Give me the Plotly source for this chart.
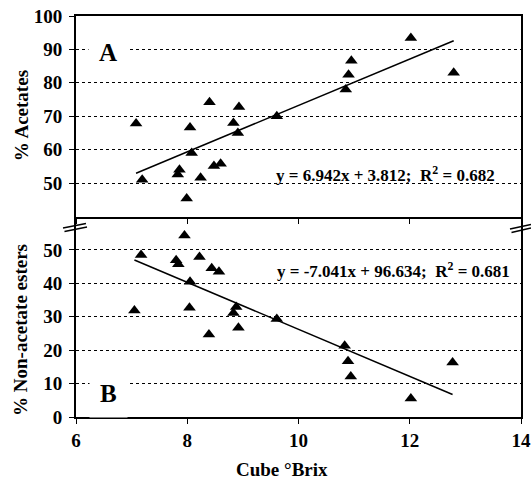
import plotly.graph_objects as go
from plotly.subplots import make_subplots

# Data
brix_a = [7.08, 7.19, 7.86, 7.83, 7.99, 8.05, 8.08, 8.24, 8.40, 8.48,
          8.60, 8.83, 8.91, 8.93, 9.61, 10.85, 10.90, 10.95, 12.02, 12.79]
acetates = [67.8, 51.0, 54.0, 52.6, 45.4, 66.6, 59.0, 51.6, 74.2, 55.1,
            55.8, 68.0, 65.0, 72.8, 70.0, 78.0, 82.4, 86.6, 93.4, 83.0]

brix_b = [7.95, 7.17, 7.80, 7.84, 8.22, 8.44, 8.57, 8.05, 7.05, 8.04,
          8.83, 8.88, 8.92, 8.39, 9.61, 10.83, 10.89, 10.94, 12.02, 12.77]
non_acetates = [54.3, 48.5, 46.9, 45.7, 47.9, 44.5, 43.5, 40.5, 31.9, 32.7,
                31.1, 32.9, 26.7, 24.7, 29.3, 21.3, 16.7, 12.1, 5.5, 16.3]

fit_a = (6.942, 3.812)
fit_b = (-7.041, 96.634)
eq_a = "<b>y = 6.942x + 3.812;&nbsp; R<sup>2</sup> = 0.682</b>"
eq_b = "<b>y = -7.041x + 96.634;&nbsp; R<sup>2</sup> = 0.681</b>"

x_ticks = [6, 8, 10, 12, 14]
ya_ticks = [50, 60, 70, 80, 90, 100]
yb_ticks = [0, 10, 20, 30, 40, 50]

FONT = "Liberation Serif, Times New Roman, serif"

fig = make_subplots(rows=2, cols=1, shared_xaxes=False, vertical_spacing=0)

mk = dict(symbol="triangle-up", size=11, color="black")
fig.add_trace(go.Scatter(x=brix_a, y=acetates, mode="markers", marker=mk,
                         showlegend=False), row=1, col=1)
fig.add_trace(go.Scatter(x=brix_b, y=non_acetates, mode="markers", marker=mk,
                         showlegend=False), row=2, col=1)

xa0, xa1 = min(brix_a), max(brix_a)
fig.add_trace(go.Scatter(x=[xa0, xa1], y=[fit_a[0] * xa0 + fit_a[1], fit_a[0] * xa1 + fit_a[1]],
                         mode="lines", line=dict(color="black", width=1.5),
                         showlegend=False), row=1, col=1)
xb0, xb1 = min(brix_b), max(brix_b)
fig.add_trace(go.Scatter(x=[xb0, xb1], y=[fit_b[0] * xb0 + fit_b[1], fit_b[0] * xb1 + fit_b[1]],
                         mode="lines", line=dict(color="black", width=1.5),
                         showlegend=False), row=2, col=1)

def bold(vals):
    return ["<b>%d</b>" % v for v in vals]

tickfont = dict(family=FONT, size=19, color="black")
axis_common = dict(showline=True, linecolor="black", linewidth=2, automargin=False,
                   ticks="outside", ticklen=5, tickcolor="black", tickwidth=1,
                   zeroline=False, tickfont=tickfont)

fig.update_xaxes(range=[6, 14], tickvals=x_ticks, ticktext=bold(x_ticks),
                 showgrid=False, **axis_common)
fig.update_xaxes(showticklabels=False, mirror=True, row=1, col=1)
fig.update_xaxes(mirror=False, ticklabelstandoff=0, row=2, col=1)

fig.update_yaxes(showgrid=True, gridcolor="black", gridwidth=1, griddash="dot",
                 mirror=True, ticklabelstandoff=3, **axis_common)
fig.update_yaxes(range=[40, 100], tickvals=ya_ticks, ticktext=bold(ya_ticks), row=1, col=1)
fig.update_yaxes(range=[0, 60], tickvals=yb_ticks, ticktext=bold(yb_ticks), row=2, col=1)

W, H, L, T = 445, 401, 76, 16
FIG_W, FIG_H = 531, 479
B = FIG_H - T - H

titlefont = dict(family=FONT, size=19, color="black")
annotations = [
    dict(text="<b>% Acetates</b>", xref="paper", yref="paper", x=0, y=0.75,
         xanchor="center", yanchor="middle",
         xshift=21 - L, textangle=-90, showarrow=False, font=titlefont),
    dict(text="<b>% Non-acetate esters</b>", xref="paper", yref="paper", x=0, y=0.217,
         xanchor="center", yanchor="middle",
         xshift=21 - L, textangle=-90, showarrow=False, font=titlefont),
    dict(text="<b>Cube °Brix</b>", xref="x2", yref="paper", x=9.7, y=0, yshift=-52,
         xanchor="center", yanchor="middle", showarrow=False, font=titlefont),
    dict(text="<b>A</b>", xref="x", yref="y", x=6.58, y=89, showarrow=False,
         font=dict(family=FONT, size=25, color="black"),
         bgcolor="white", borderpad=10),
    dict(text="<b>B</b>", xref="x2", yref="y2", x=6.58, y=7, showarrow=False,
         font=dict(family=FONT, size=25, color="black"),
         bgcolor="white", borderpad=10),
    dict(text=eq_a, xref="x", yref="y", x=11.57, y=52.6, showarrow=False,
         font=dict(family=FONT, size=17, color="black")),
    dict(text=eq_b, xref="x2", yref="y2", x=11.70, y=44.1, showarrow=False,
         font=dict(family=FONT, size=17, color="black")),
]

def px(xp, yp):
    # page pixel -> paper coordinates (decoration only)
    return (xp - L) / W, (FIG_H - B - yp) / H

shapes = []
for (x0, y0, x1, y1) in [(63, 228, 86, 223.5), (64.5, 231.5, 87, 227),
                         (510, 229, 531, 224.5), (511.5, 232.5, 531, 228)]:
    a0, b0 = px(x0, y0)
    a1, b1 = px(x1, y1)
    shapes.append(dict(type="line", xref="paper", yref="paper", x0=a0, y0=b0,
                       x1=a1, y1=b1, line=dict(color="black", width=1.5)))

fig.update_layout(width=FIG_W, height=FIG_H, autosize=False,
                  margin=dict(l=L, r=FIG_W - L - W, t=T, b=B),
                  plot_bgcolor="white", paper_bgcolor="white",
                  annotations=annotations, shapes=shapes,
                  font=dict(family=FONT, color="black"))

fig.write_html("out.html",
               config={"displayModeBar": False, "responsive": False},
               post_script="document.body.style.margin='0';document.body.style.overflow='hidden';")
